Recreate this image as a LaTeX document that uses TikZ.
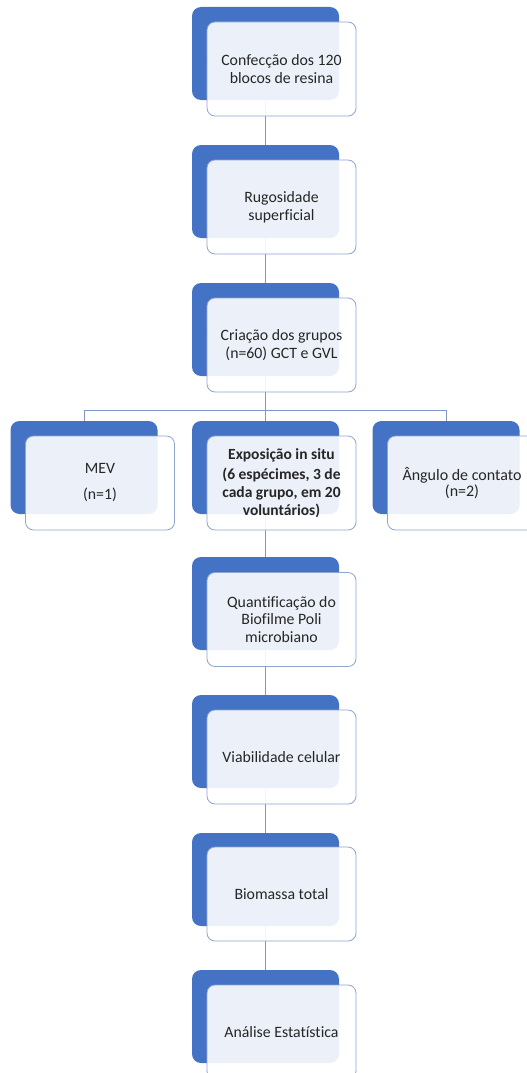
\documentclass[tikz,border=0pt]{standalone}
\usepackage{fontspec}
\setmainfont{Carlito}[Ligatures=NoCommon]
\definecolor{accblue}{HTML}{4472C4}
\definecolor{frameblue}{HTML}{8EA5D0}
\definecolor{linkblue}{HTML}{7F97C6}
\definecolor{txtgray}{HTML}{262626}
\tikzset{
  backbox/.style={draw=none, fill=accblue, rounded corners=9pt, minimum width=147pt, minimum height=93pt, inner sep=0pt, outer sep=0pt},
  frontbox/.style={draw=frameblue, line width=0.8pt, fill=white, fill opacity=0.9, text opacity=1, rounded corners=8pt, minimum width=149pt, minimum height=94pt, inner sep=0pt, outer sep=0pt, align=center, text=txtgray, font=\fontsize{15.8}{18}\selectfont},
  link/.style={draw=linkblue, line width=0.8pt}
}
\begin{document}
\begin{tikzpicture}[x=1pt,y=-1pt]
\useasboundingbox (0,0) rectangle (527,1073);
\clip (0,0) rectangle (527,1073);
% back (blue) boxes
\node[backbox] (b1) at (265.5,53.5) {};
\node[backbox] (b2) at (265.5,191.5) {};
\node[backbox] (b3) at (265.5,329.5) {};
\node[backbox] (bl) at (84,467.5) {};
\node[backbox] (bm) at (265.5,467.5) {};
\node[backbox] (br) at (446,467.5) {};
\node[backbox] (b5) at (265.5,603.5) {};
\node[backbox] (b6) at (265.5,741.5) {};
\node[backbox] (b7) at (265.5,879.5) {};
\node[backbox] (b8) at (265.5,1016.5) {};
% connectors
\coordinate (hl) at (84,410);
\coordinate (hr) at (446,410);
\draw[link] (b1.south) -- (b2.north);
\draw[link] (b2.south) -- (b3.north);
\draw[link] (b3.south) -- (bm.north);
\draw[link] (bl.north) -- (hl) -- (hr) -- (br.north);
\draw[link] (bm.south) -- (b5.north);
\draw[link] (b5.south) -- (b6.north);
\draw[link] (b6.south) -- (b7.north);
\draw[link] (b7.south) -- (b8.north);
% front boxes with text
\node[frontbox] (f1) at (281.5,69) {Confecção dos 120\\blocos de resina};
\node[frontbox] (f2) at (281.5,207) {Rugosidade\\superficial};
\node[frontbox] (f3) at (281.5,345) {Criação dos grupos\\(n=60) GCT e GVL};
\node[frontbox] (fl) at (100,483) {MEV\\[8pt](n=1)};
\node[frontbox, font=\fontsize{15.5}{18}\selectfont] (fm) at (281.5,483) {\bfseries Exposição in situ\\[2pt]\bfseries (6 espécimes, 3 de\\\bfseries cada grupo, em 20\\\bfseries voluntários)};
\node[frontbox, font=\fontsize{16}{14}\selectfont] (fr) at (462,483) {Ângulo de contato\\(n=2)};
\node[frontbox, font=\fontsize{15.8}{17.5}\selectfont] (f5) at (281.5,619.5) {Quantificação do\\Biofilme Poli\\microbiano};
\node[frontbox] (f6) at (281.5,757) {Viabilidade celular};
\node[frontbox] (f7) at (281.5,894) {Biomassa total};
\node[frontbox] (f8) at (281.5,1032) {Análise Estatística};
\end{tikzpicture}
\end{document}
